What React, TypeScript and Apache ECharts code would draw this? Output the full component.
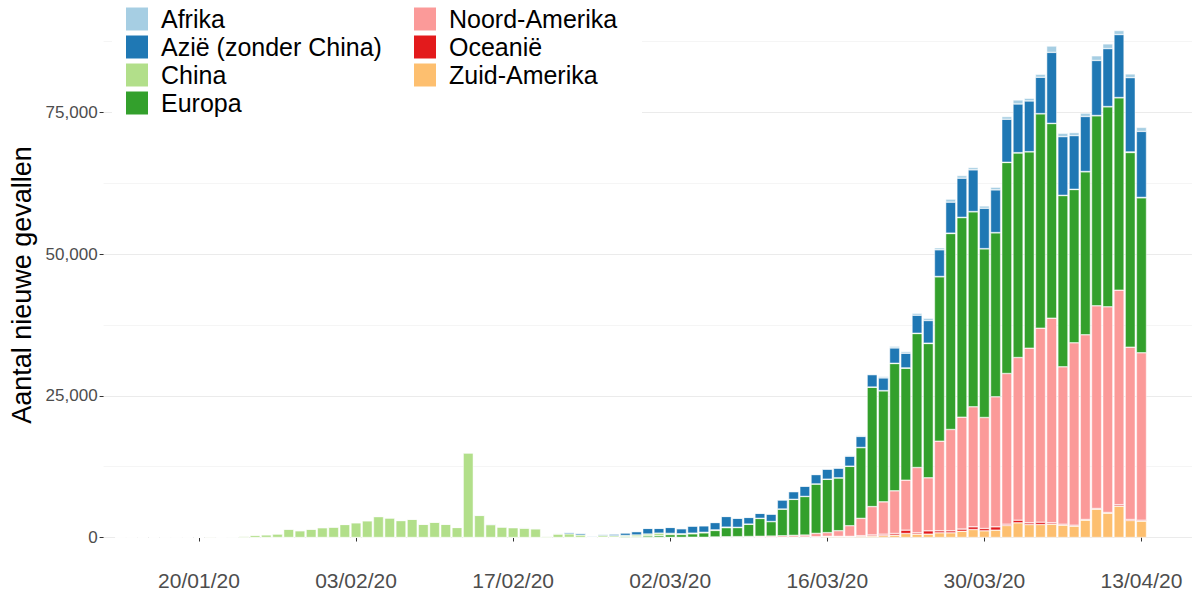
import React, { useEffect, useRef } from "react";
import * as echarts from "echarts";

// Data: one value per day from 13/01/20 to 13/04/20 (92 days)
const afrika = [
  0, 0, 0, 0, 0, 0, 0, 0, 0, 0,
  0, 0, 0, 0, 0, 0, 0, 0, 0, 0,
  0, 0, 0, 0, 0, 0, 0, 0, 0, 0,
  0, 0, 0, 0, 0, 0, 0, 0, 0, 0,
  0, 0, 0, 0, 0, 1, 0, 0, 1, 2,
  2, 5, 4, 10, 8, 10, 20, 15, 30, 25,
  20, 30, 60, 80, 100, 120, 150, 150, 250, 300,
  300, 350, 400, 350, 530, 470, 412, 412, 470, 470,
  706, 470, 529, 1117, 588, 529, 588, 823, 823, 706,
  647, 706,
];
const azie = [
  0, 0, 0, 0, 0, 0, 1, 0, 2, 3,
  5, 20, 10, 15, 15, 10, 20, 20, 30, 30,
  20, 25, 30, 40, 40, 50, 40, 50, 40, 50,
  20, 40, 70, 130, 70, 70, 100, 100, 60, 120,
  260, 300, 120, 200, 300, 450, 600, 1000, 850, 1050,
  900, 1250, 1150, 1300, 1880, 1600, 1180, 880, 1300, 1600,
  1350, 1800, 1650, 1764, 1700, 1764, 1940, 2176, 2234, 2705,
  2587, 3175, 4000, 4704, 5470, 6900, 7350, 7115, 7526, 7585,
  8585, 8938, 6409, 12520, 10350, 9467, 9702, 9702, 10230, 11110,
  13110, 11640,
];
const china = [
  0, 0, 0, 0, 0, 0, 100, 0, 120, 90,
  100, 250, 420, 480, 640, 1480, 1200, 1480, 1720, 1840,
  2300, 2600, 2950, 3680, 3450, 2980, 3220, 2330, 2700, 2330,
  1770, 14920, 3900, 2250, 1840, 1720, 1640, 1520, 220, 600,
  620, 420, 110, 300, 250, 200, 320, 330, 450, 220,
  130, 120, 100, 100, 100, 50, 40, 20, 25, 15,
  10, 20, 20, 20, 30, 30, 40, 40, 50, 40,
  40, 50, 50, 60, 60, 50, 50, 40, 50, 40,
  40, 40, 40, 30, 40, 40, 60, 60, 50, 50,
  100, 80,
];
const europa = [
  0, 0, 0, 0, 0, 0, 0, 0, 0, 0,
  0, 0, 3, 0, 1, 4, 0, 0, 5, 3,
  0, 0, 1, 1, 0, 3, 2, 0, 3, 0,
  1, 0, 1, 1, 0, 0, 0, 0, 0, 0,
  20, 15, 50, 60, 60, 160, 120, 270, 300, 480,
  500, 600, 780, 1150, 1600, 1600, 2150, 3150, 2550, 4700,
  6350, 6800, 8700, 9408, 9300, 10470, 12470, 21050, 19580, 22460,
  19760, 23640, 23700, 28990, 34570, 35200, 34400, 29750, 28930, 37220,
  36100, 34630, 37810, 34340, 30220, 27050, 28750, 33520, 35280, 33930,
  34340, 27340,
];
const noordAmerika = [
  0, 0, 0, 0, 0, 0, 0, 0, 1, 0,
  0, 0, 1, 3, 0, 0, 0, 0, 1, 1,
  0, 2, 0, 0, 0, 1, 0, 0, 0, 1,
  0, 1, 0, 0, 0, 0, 0, 0, 0, 0,
  0, 0, 15, 0, 0, 2, 3, 10, 15, 20,
  20, 30, 20, 60, 80, 100, 120, 180, 220, 260,
  320, 350, 600, 650, 1000, 1880, 3058, 5000, 5700, 7526,
  8820, 11520, 9350, 15820, 17880, 19750, 21170, 19580, 22930, 26580,
  28690, 30810, 34220, 36100, 27750, 32160, 32580, 35750, 36280, 37870,
  30400, 29520,
];
const oceanie = [
  0, 0, 0, 0, 0, 0, 0, 0, 0, 0,
  0, 0, 1, 1, 0, 1, 0, 0, 1, 0,
  0, 0, 0, 0, 0, 0, 0, 0, 0, 0,
  0, 0, 0, 0, 0, 0, 0, 0, 0, 0,
  0, 0, 0, 0, 0, 0, 1, 2, 3, 5,
  4, 10, 8, 15, 20, 10, 20, 25, 20, 30,
  40, 30, 50, 60, 70, 80, 120, 200, 235, 294,
  588, 235, 588, 353, 353, 380, 470, 412, 588, 235,
  470, 294, 412, 235, 176, 176, 118, 118, 118, 235,
  176, 176,
];
const zuidAmerika = [
  0, 0, 0, 0, 0, 0, 0, 0, 0, 0,
  0, 0, 0, 0, 0, 0, 0, 0, 0, 0,
  0, 0, 0, 0, 0, 0, 0, 0, 0, 0,
  0, 0, 0, 0, 0, 0, 0, 0, 0, 0,
  0, 0, 0, 0, 0, 0, 0, 1, 2, 5,
  5, 8, 10, 20, 30, 40, 40, 10, 10, 20,
  20, 50, 80, 150, 130, 120, 200, 250, 350, 412,
  706, 588, 588, 823, 823, 1100, 1411, 1176, 1294, 2117,
  2587, 2293, 2293, 2352, 2176, 2000, 3058, 4998, 4292, 5527,
  2999, 2881,
];

const tickLabels = ["20/01/20", "03/02/20", "17/02/20", "02/03/20", "16/03/20", "30/03/20", "13/04/20"];
const yTickValues = [0, 25000, 50000, 75000];

// x axis runs one day before the first data day to four days after the last
const axisStart = Date.UTC(2020, 0, 12);
const axisEnd = Date.UTC(2020, 3, 17);
const padBefore = 1;
const padAfter = 4;

function buildDates(): string[] {
  const out: string[] = [];
  const d = new Date(axisStart);
  while (d.getTime() <= axisEnd) {
    const dd = String(d.getUTCDate()).padStart(2, "0");
    const mm = String(d.getUTCMonth() + 1).padStart(2, "0");
    out.push(`${dd}/${mm}/20`);
    d.setUTCDate(d.getUTCDate() + 1);
  }
  return out;
}

function pad(arr: number[]): (number | null)[] {
  return [...Array(padBefore).fill(null), ...arr, ...Array(padAfter).fill(null)];
}

const seriesDefs = [
  { name: "Zuid-Amerika", data: zuidAmerika, color: "#FDBF6F" },
  { name: "Oceanië", data: oceanie, color: "#E31A1C" },
  { name: "Noord-Amerika", data: noordAmerika, color: "#FB9A99" },
  { name: "Europa", data: europa, color: "#33A02C" },
  { name: "China", data: china, color: "#B2DF8A" },
  { name: "Azië (zonder China)", data: azie, color: "#1F78B4" },
  { name: "Afrika", data: afrika, color: "#A6CEE3" },
];

const FONT = "Arial, 'Liberation Sans', sans-serif";

export default function App() {
  const ref = useRef<HTMLDivElement>(null);
  useEffect(() => {
    document.body.style.margin = "0";
    if (!ref.current) return;
    const chart = echarts.init(ref.current, undefined, { renderer: "svg" });
    const dates = buildDates();
    const zeroY = 537.5;
    const pxPerUnit = 0.005669;
    const yMax = zeroY / pxPerUnit; // panel reaches the top edge
    const gridLeft = 103.6;
    const catW = 11.22;
    const gridRight = 1194 - (gridLeft + dates.length * catW);

    const legendBase = {
      orient: "vertical",
      top: 5,
      padding: 0,
      itemWidth: 24,
      itemHeight: 25,
      itemGap: 0,
      icon: "rect",
      selectedMode: false,
      textStyle: {
        fontSize: 25,
        lineHeight: 28,
        color: "#000",
        fontFamily: FONT,
        padding: [0, 0, 0, 7],
      },
    };

    chart.setOption({
      animation: false,
      backgroundColor: "#fff",
      grid: { left: gridLeft, right: gridRight, top: 0, bottom: 592 - zeroY },
      legend: [
        { ...legendBase, left: 124, data: ["Afrika", "Azië (zonder China)", "China", "Europa"] },
        { ...legendBase, left: 412, data: ["Noord-Amerika", "Oceanië", "Zuid-Amerika"] },
      ],
      graphic: [
        {
          type: "rect",
          z: 1,
          shape: { x: 112, y: 0, width: 530, height: 124 },
          style: { fill: "#fff" },
          silent: true,
        },
        {
          type: "text",
          x: 22,
          y: 285,
          rotation: Math.PI / 2,
          style: {
            text: "Aantal nieuwe gevallen",
            fontSize: 27,
            fontFamily: FONT,
            fill: "#000",
            align: "center",
            verticalAlign: "middle",
          },
        },
      ],
      xAxis: {
        type: "category",
        data: dates,
        offset: 26,
        axisLine: { show: false },
        axisTick: {
          show: true,
          alignWithLabel: true,
          length: 4,
          interval: (_i: number, v: string) => tickLabels.includes(v),
          lineStyle: { color: "#333", width: 1 },
        },
        axisLabel: {
          interval: (_i: number, v: string) => tickLabels.includes(v),
          fontSize: 21,
          color: "#4D4D4D",
          fontFamily: FONT,
          margin: 6,
        },
        splitLine: { show: false },
      },
      yAxis: [
        {
          type: "value",
          min: 0,
          max: yMax,
          interval: 12500,
          axisLine: { show: false },
          axisTick: { show: false },
          axisLabel: { show: false },
          splitLine: {
            show: true,
            showMaxLine: false,
            lineStyle: { color: ["#EBEBEB", "#F5F5F5"], width: 1 },
          },
        },
        {
          type: "value",
          min: 0,
          max: yMax,
          interval: 25000,
          position: "left",
          axisLine: { show: false },
          axisTick: {
            show: true,
            length: 4,
            customValues: yTickValues,
            lineStyle: { color: "#333" },
          },
          axisLabel: {
            fontSize: 17,
            color: "#4D4D4D",
            fontFamily: FONT,
            margin: 6,
            customValues: yTickValues,
            formatter: (v: number) =>
              yTickValues.includes(v) ? v.toLocaleString("en-US") : "",
          },
          splitLine: { show: false },
        },
      ],
      series: seriesDefs.map((s) => ({
        name: s.name,
        type: "bar",
        stack: "total",
        yAxisIndex: 0,
        barCategoryGap: "10%",
        data: pad(s.data),
        itemStyle: { color: s.color, borderColor: "#fff", borderWidth: 0.5 },
        emphasis: { disabled: true },
      })),
    });
    return () => chart.dispose();
  }, []);
  return <div ref={ref} style={{ width: 1194, height: 592 }} />;
}
